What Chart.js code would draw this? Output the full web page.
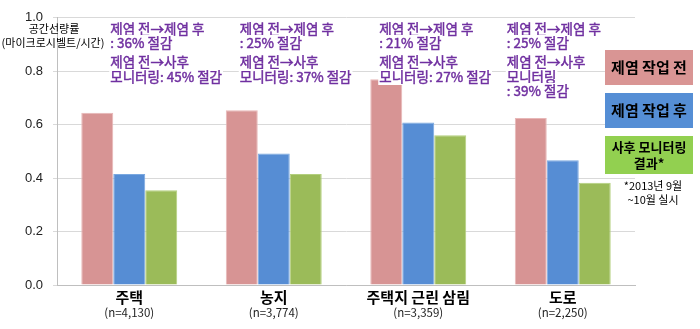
<!DOCTYPE html>
<html>
<head>
<meta charset="utf-8">
<script src="https://cdn.jsdelivr.net/npm/chart.js@4"></script>
<style>
  html, body { margin: 0; padding: 0; background: #fff; }
  #wrap { width: 700px; height: 329px; }
</style>
</head>
<body>
<div id="wrap"><canvas id="doseChart"></canvas></div>
<script>
const categories = ['주택', '농지', '주택지 근린 삼림', '도로'];
const sampleSizes = ['(n=4,130)', '(n=3,774)', '(n=3,359)', '(n=2,250)'];
const seriesNames = ['제염 작업 전', '제염 작업 후', '사후 모니터링 결과*'];
const beforeValues = [0.645, 0.654, 0.770, 0.625];
const afterValues = [0.415, 0.492, 0.608, 0.467];
const monitorValues = [0.355, 0.415, 0.560, 0.383];
const yTicks = [0, 0.2, 0.4, 0.6, 0.8, 1.0];
const notes = [
    ['제염 전→제염 후', ': 36% 절감', '제염 전→사후', '모니터링: 45% 절감'],
    ['제염 전→제염 후', ': 25% 절감', '제염 전→사후', '모니터링: 37% 절감'],
    ['제염 전→제염 후', ': 21% 절감', '제염 전→사후', '모니터링: 27% 절감'],
    ['제염 전→제염 후', ': 25% 절감', '제염 전→사후', '모니터링', ': 39% 절감']
];
const noteOffsets = [-19, -34, -39, -56];

const KR = '"Noto Sans CJK KR", "Noto Sans", sans-serif';
const barColors = ['#D79494', '#568DD4', '#9BBB59'];
const legendColors = ['#D99594', '#558ED5', '#92D050'];

const overlay = {
    id: 'overlay',
    afterDraw(chart) {
        const ctx = chart.ctx;
        const xs = chart.scales.x;
        ctx.save();
        ctx.textBaseline = 'middle';

        // axis title
        ctx.fillStyle = '#000';
        ctx.textAlign = 'center';
        ctx.font = '11px ' + KR;
        ctx.fillText('공간선량률', 54, 29);
        ctx.fillText('(마이크로시벨트/시간)', 53, 43);

        // category labels
        categories.forEach((c, i) => {
            const x = xs.getPixelForValue(i);
            ctx.fillStyle = '#000';
            ctx.font = 'bold 15px ' + KR;
            ctx.fillText(c, x, 297);
            ctx.font = '11.5px ' + KR;
            ctx.fillStyle = '#222';
            ctx.fillText(sampleSizes[i], x, 313);
        });

        // notes (regular weight, lightly stroked to look semi-bold)
        const lineY = [29, 43, 62, 77, 91];
        ctx.textAlign = 'left';
        ctx.font = '13.5px ' + KR;
        ctx.lineWidth = 0.45;
        ctx.strokeStyle = '#7030A0';
        notes.forEach((lines, i) => {
            const x0 = xs.getPixelForValue(i) + noteOffsets[i];
            lines.forEach((t, j) => {
                const w = ctx.measureText(t).width;
                ctx.fillStyle = '#fff';
                ctx.fillRect(x0 - 1, lineY[j] - 8, w + 2, 16);
                ctx.fillStyle = '#7030A0';
                ctx.fillText(t, x0, lineY[j]);
                ctx.strokeText(t, x0, lineY[j]);
            });
        });

        // legend boxes
        const boxes = [
            {y: 50, h: 35, lines: ['제염 작업 전'], size: 15},
            {y: 93, h: 35, lines: ['제염 작업 후'], size: 15},
            {y: 136, h: 38, lines: ['사후 모니터링', '결과*'], size: 13}
        ];
        ctx.textAlign = 'center';
        boxes.forEach((b, i) => {
            ctx.fillStyle = legendColors[i];
            ctx.fillRect(605, b.y, 88, b.h);
            ctx.fillStyle = '#000';
            ctx.font = 'bold ' + b.size + 'px ' + KR;
            if (b.lines.length === 1) {
                ctx.fillText(b.lines[0], 649, b.y + b.h / 2);
            } else {
                ctx.fillText(b.lines[0], 649, b.y + 11);
                ctx.fillText(b.lines[1], 649, b.y + 27);
            }
        });
        ctx.font = '11px ' + KR;
        ctx.fillStyle = '#000';
        ctx.fillText('*2013년 9월', 653, 186);
        ctx.fillText('~10월 실시', 653, 200);
        ctx.restore();
    }
};

new Chart(document.getElementById('doseChart'), {
    type: 'bar',
    data: {
        labels: categories,
        datasets: [
            {label: seriesNames[0], data: beforeValues, backgroundColor: barColors[0], borderColor: '#E8B7B7', borderWidth: 1},
            {label: seriesNames[1], data: afterValues, backgroundColor: barColors[1], borderColor: '#7AA8E0', borderWidth: 1},
            {label: seriesNames[2], data: monitorValues, backgroundColor: barColors[2], borderColor: '#B3CF7E', borderWidth: 1}
        ]
    },
    options: {
        responsive: true,
        maintainAspectRatio: false,
        animation: false,
        layout: {padding: {top: 11, right: 65, left: 0, bottom: 0}},
        categoryPercentage: 0.664,
        barPercentage: 1.0,
        plugins: {legend: {display: false}, tooltip: {enabled: false}},
        scales: {
            x: {
                ticks: {display: false},
                grid: {display: false},
                border: {color: '#BFBFBF'},
                afterFit(scale) { scale.height = 44; }
            },
            y: {
                min: 0,
                max: 1.0,
                afterBuildTicks(scale) { scale.ticks = yTicks.map(v => ({value: v})); },
                ticks: {
                    color: '#222',
                    font: {family: 'Liberation Sans', size: 13},
                    padding: 10,
                    callback: v => v.toFixed(1)
                },
                grid: {color: '#D9D9D9', tickLength: 4},
                border: {color: '#BFBFBF'},
                afterFit(scale) { scale.width = 57; }
            }
        }
    },
    plugins: [overlay]
});
</script>
</body>
</html>
